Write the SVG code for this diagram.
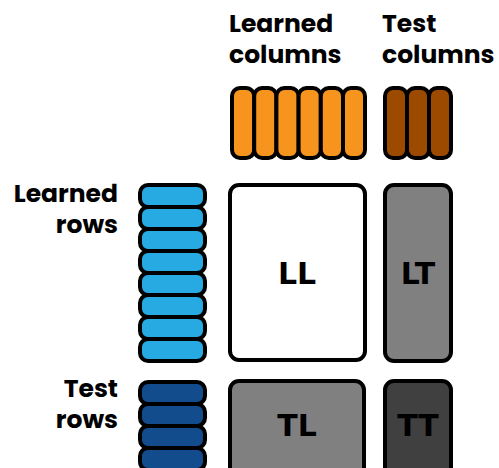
<svg xmlns="http://www.w3.org/2000/svg" width="499" height="468" viewBox="0 0 499 468">
<style>
.lbl{font-family:Poppins,Inter,"Noto Sans",sans-serif;font-weight:700;font-size:25px;fill:#000}
.cell{font-family:"DejaVu Sans","Open Sans",sans-serif;font-weight:700;font-size:30px;fill:#000;text-anchor:middle}
.s{stroke:#000;stroke-width:4}
.lc{fill:#F7941E}
.tc{fill:#9C4A00}
.lr{fill:#27AAE1}
.tr{fill:#124C8C}
</style>
<rect width="499" height="468" fill="#fff"/>
<g id="label-learned-columns"><text class="lbl" x="229" y="32">Learned</text><text class="lbl" x="229" y="63">columns</text></g>
<g id="label-test-columns"><text class="lbl" x="382" y="32">Test</text><text class="lbl" x="382" y="63">columns</text></g>
<g id="label-learned-rows"><text class="lbl" x="118" y="202" text-anchor="end">Learned</text><text class="lbl" x="118" y="233" text-anchor="end">rows</text></g>
<g id="label-test-rows"><text class="lbl" x="118" y="397" text-anchor="end">Test</text><text class="lbl" x="118" y="428" text-anchor="end">rows</text></g>
<g id="learned-columns" class="s lc">
<rect x="232" y="88" width="22.2" height="70" rx="8"/>
<rect x="254.2" y="88" width="22.2" height="70" rx="8"/>
<rect x="276.4" y="88" width="22.2" height="70" rx="8"/>
<rect x="298.6" y="88" width="22.2" height="70" rx="8"/>
<rect x="320.8" y="88" width="22.2" height="70" rx="8"/>
<rect x="343" y="88" width="22" height="70" rx="8"/>
</g>
<g id="test-columns" class="s tc">
<rect x="385" y="88" width="22" height="70" rx="8"/>
<rect x="407" y="88" width="22" height="70" rx="8"/>
<rect x="429" y="88" width="22" height="70" rx="8"/>
</g>
<g id="learned-rows" class="s lr">
<rect x="140" y="185" width="65" height="22" rx="8"/>
<rect x="140" y="207" width="65" height="22" rx="8"/>
<rect x="140" y="229" width="65" height="22" rx="8"/>
<rect x="140" y="251" width="65" height="22" rx="8"/>
<rect x="140" y="273" width="65" height="22" rx="8"/>
<rect x="140" y="295" width="65" height="22" rx="8"/>
<rect x="140" y="317" width="65" height="22" rx="8"/>
<rect x="140" y="339" width="65" height="22" rx="8"/>
</g>
<g id="test-rows" class="s tr">
<rect x="140" y="382" width="65" height="22" rx="8"/>
<rect x="140" y="404" width="65" height="22" rx="8"/>
<rect x="140" y="426" width="65" height="22" rx="8"/>
<rect x="140" y="448" width="65" height="22" rx="8"/>
</g>
<g id="LL"><rect class="s" x="230" y="185" width="135" height="175" rx="9" fill="#fff"/><text class="cell" x="297" y="284">LL</text></g>
<g id="LT"><rect class="s" x="385" y="185" width="66" height="176" rx="9" fill="#808080"/><text class="cell" x="418" y="284">LT</text></g>
<g id="TL"><rect class="s" x="230" y="381" width="134" height="100" rx="9" fill="#808080"/><text class="cell" x="297" y="436">TL</text></g>
<g id="TT"><rect class="s" x="385" y="381" width="66" height="100" rx="9" fill="#404040"/><text class="cell" x="418" y="436">TT</text></g>
<g id="connectors"/>
</svg>
